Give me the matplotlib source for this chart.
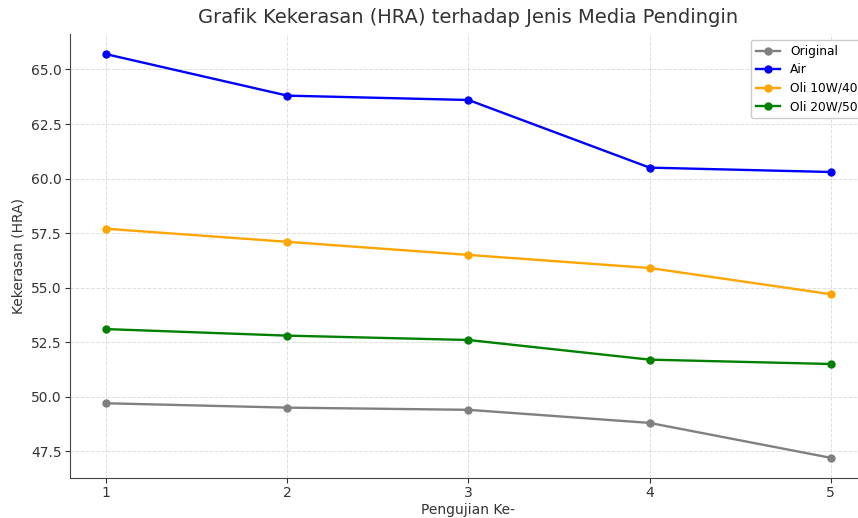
import matplotlib.pyplot as plt

# ===================== DATA =====================
pengujian = [1, 2, 3, 4, 5]
original = [49.7, 49.5, 49.4, 48.8, 47.2]
air = [65.7, 63.8, 63.6, 60.5, 60.3]
oli_10w40 = [57.7, 57.1, 56.5, 55.9, 54.7]
oli_20w50 = [53.1, 52.8, 52.6, 51.7, 51.5]

series = [
    ("Original", original, "gray"),
    ("Air", air, "blue"),
    ("Oli 10W/40", oli_10w40, "orange"),
    ("Oli 20W/50", oli_20w50, "green"),
]

# ===================== PLOT =====================
fig = plt.figure(figsize=(8.58, 5.18), dpi=100)
# the reference is cut off on the right, so the axes run past the figure edge
ax = fig.add_axes([70 / 858, 40 / 518, 797 / 858, 444 / 518])

for nama, nilai, warna in series:
    ax.plot(pengujian, nilai, marker="o", color=warna, label=nama,
            linewidth=1.7, markersize=5)

ax.set_title("Grafik Kekerasan (HRA) terhadap Jenis Media Pendingin",
             fontsize=14, color="#333333", pad=8)
ax.set_xlabel("Pengujian Ke-", fontsize=10, color="#333333", labelpad=2)
ax.set_ylabel("Kekerasan (HRA)", fontsize=10, color="#333333", labelpad=4)
ax.set_xticks(pengujian)
ax.tick_params(labelsize=10, colors="#333333", pad=2.5)

ax.grid(True, linestyle="--", color="#d0d0d0", alpha=0.7, linewidth=0.7)
for s in ["top", "right"]:
    ax.spines[s].set_visible(False)
for s in ["left", "bottom"]:
    ax.spines[s].set_color("#444444")

ax.legend(loc="upper left", bbox_to_anchor=(751 / 858, 1 - 40 / 518),
          bbox_transform=fig.transFigure, borderaxespad=0, fontsize=8.8,
          framealpha=1, labelspacing=0.45)

fig.savefig("out.png", dpi=100)
